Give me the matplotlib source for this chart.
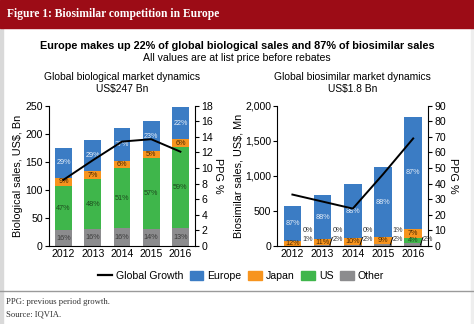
import matplotlib
matplotlib.use('Agg')
import matplotlib.pyplot as plt
from matplotlib.patches import Rectangle, Patch
from matplotlib.lines import Line2D
from matplotlib.ticker import FuncFormatter
import numpy as np

plt.rcParams['font.family'] = ['Liberation Sans', 'DejaVu Sans']

years = ["2012", "2013", "2014", "2015", "2016"]

# Global biological market, US$ Bn (segment sizes)
bio_other = [28, 30, 32, 30, 32]
bio_us = [79, 89, 107, 127, 144]
bio_japan = [15, 14, 13, 13, 14]
bio_europe = [52, 56, 59, 52, 57]
bio_pct_other = ["16%", "16%", "16%", "14%", "13%"]
bio_pct_us = ["47%", "48%", "51%", "57%", "59%"]
bio_pct_japan = ["9%", "7%", "6%", "5%", "6%"]
bio_pct_europe = ["29%", "29%", "27%", "23%", "22%"]
bio_growth = [8.5, 11.0, 13.4, 13.7, 12.1]

# Global biosimilar market, US$ Mn
sim_other = [6, 15, 18, 22, 37]
sim_us = [0, 0, 0, 11, 74]
sim_japan = [69, 80, 89, 101, 129]
sim_europe = [500, 632, 781, 986, 1603]
sim_pct_other = ["1%", "2%", "2%", "2%", "2%"]
sim_pct_us = ["0%", "0%", "0%", "1%", "4%"]
sim_pct_japan = ["12%", "11%", "10%", "9%", "7%"]
sim_pct_europe = ["87%", "88%", "88%", "88%", "87%"]
sim_growth = [33, 28.5, 24, 46, 69]

c_europe = '#3b7cc4'
c_japan = '#f7941e'
c_us = '#3fb64b'
c_other = '#8c8c8e'

W, H = 474, 324
fig = plt.figure(figsize=(W / 100, H / 100), dpi=100)

def fx(px): return px / W
def fy(py): return 1 - py / H

# frame and header
fig.patches.append(Rectangle((0, 0), fx(2.5), 1, transform=fig.transFigure, color='#d9d9d9', zorder=0))
fig.patches.append(Rectangle((fx(470.5), 0), fx(3.5), 1, transform=fig.transFigure, color='#eeeeee', zorder=0))
fig.patches.append(Rectangle((0, fy(28)), 1, fy(0) - fy(28), transform=fig.transFigure, color='#9c0c16', zorder=1))
fig.text(fx(7), fy(14), "Figure 1: Biosimilar competition in Europe", color='white',
         family=['Liberation Serif', 'DejaVu Serif'], fontweight='bold', fontsize=8.3, va='center')
fig.add_artist(Line2D([0, 1], [fy(290.5), fy(290.5)], transform=fig.transFigure, color='#9a9a9a', lw=1))
fig.text(fx(6), fy(302.5), "PPG: previous period growth.", family=['Liberation Serif', 'DejaVu Serif'],
         fontsize=6.2, va='center', color='#333333')
fig.text(fx(6), fy(314), "Source: IQVIA.", family=['Liberation Serif', 'DejaVu Serif'],
         fontsize=6.2, va='center', color='#333333')

fig.text(0.5, fy(46), "Europe makes up 22% of global biological sales and 87% of biosimilar sales",
         ha='center', va='center', fontweight='bold', fontsize=7.8)
fig.text(0.5, fy(58), "All values are at list price before rebates", ha='center', va='center', fontsize=7.6)

x = np.arange(len(years))
bw = 0.58


def stacked(ax, segs, colors):
    bottom = np.zeros(len(years))
    for vals, c in zip(segs, colors):
        ax.bar(x, vals, bw, bottom=bottom, color=c, zorder=2)
        bottom = bottom + np.array(vals)


def style(ax, ax2):
    for a in (ax, ax2):
        a.spines['top'].set_visible(False)
        a.tick_params(labelsize=7.6, length=3, width=0.8, pad=1.5)
        a.set_facecolor('none')
    ax.spines['right'].set_visible(False)
    ax2.spines['left'].set_visible(False)
    ax2.spines['bottom'].set_visible(False)
    ax.tick_params(axis='x', length=0, pad=2)
    ax.set_xticks(x, years)
    ax.set_xlim(-0.5, 4.5)


# ---- left: biological market
ax1 = fig.add_axes([fx(49), fy(246), fx(146), fy(105.7) - fy(246)])
segs = [bio_other, bio_us, bio_japan, bio_europe]
stacked(ax1, segs, [c_other, c_us, c_japan, c_europe])
pcts = [bio_pct_other, bio_pct_us, bio_pct_japan, bio_pct_europe]
tcols = ['#3a3a3a', '#1d4a1d', '#4a2800', '#e6eef8']
bottom = np.zeros(len(years))
for vals, labs, tc in zip(segs, pcts, tcols):
    for i in range(len(years)):
        ax1.text(x[i], bottom[i] + vals[i] / 2, labs[i], ha='center', va='center', fontsize=5.2, color=tc, zorder=4)
    bottom = bottom + np.array(vals)
ax1.set_ylim(0, 250)
ax1.set_yticks(np.arange(0, 251, 50))
ax1.set_ylabel("Biological sales, US$, Bn", fontsize=7.8, va='center')
ax1.yaxis.set_label_coords(-0.215, 0.5)
ax1.set_title("Global biological market dynamics\nUS$247 Bn", fontsize=7.4, pad=10, linespacing=1.25)
ax1b = ax1.twinx()
ax1b.plot(x, bio_growth, color='black', lw=1.4, zorder=5)
ax1b.set_ylim(0, 18)
ax1b.set_yticks(np.arange(0, 19, 2))
ax1b.set_ylabel("PPG %", fontsize=7.8, rotation=270, va='center')
ax1b.yaxis.set_label_coords(1.16, 0.5)
style(ax1, ax1b)

# ---- right: biosimilar market
ax2 = fig.add_axes([fx(277.3), fy(246), fx(151), fy(105.7) - fy(246)])
segs = [sim_other, sim_us, sim_japan, sim_europe]
stacked(ax2, segs, [c_other, c_us, c_japan, c_europe])
ax2.set_ylim(0, 2000)
ax2.set_yticks(np.arange(0, 2001, 500))
ax2.yaxis.set_major_formatter(FuncFormatter(lambda v, p: f"{int(v):,}"))
ax2.set_ylabel("Biosimilar sales, US$, Mn", fontsize=7.8, va='center')
ax2.yaxis.set_label_coords(-0.26, 0.5)
ax2.set_title("Global biosimilar market dynamics\nUS$1.8 Bn", fontsize=7.4, pad=10, linespacing=1.25)
for i in range(len(years)):
    base_j = sim_other[i] + sim_us[i]
    ax2.text(x[i], base_j + sim_japan[i] / 2, sim_pct_japan[i], ha='center', va='center',
             fontsize=5.2, color='#4a2800', zorder=4)
    ax2.text(x[i], base_j + sim_japan[i] + sim_europe[i] / 2, sim_pct_europe[i], ha='center', va='center',
             fontsize=5.2, color='#e6eef8', zorder=4)
    ax2.text(x[i] + 0.5, 95, sim_pct_other[i], ha='center', va='center', fontsize=5.2, color='#333333', zorder=4)
    if sim_us[i] > 50:
        ax2.text(x[i], sim_other[i] + sim_us[i] / 2, sim_pct_us[i], ha='center', va='center',
                 fontsize=5.2, color='#1d4a1d', zorder=4)
    else:
        ax2.text(x[i] + 0.5, 220, sim_pct_us[i], ha='center', va='center', fontsize=5.2, color='#333333', zorder=4)
    if i > 0:
        ax2.plot([x[i] + 0.24, x[i] + 0.32], [15, 120], color='black', lw=0.7, zorder=4)
ax2b = ax2.twinx()
ax2b.plot(x, sim_growth, color='black', lw=1.4, zorder=5)
ax2b.set_ylim(0, 90)
ax2b.set_yticks(np.arange(0, 91, 10))
ax2b.set_ylabel("PPG %", fontsize=7.8, rotation=270, va='center')
ax2b.yaxis.set_label_coords(1.165, 0.5)
style(ax2, ax2b)

handles = [Line2D([], [], color='black', lw=1.6),
           Patch(color=c_europe), Patch(color=c_japan), Patch(color=c_us), Patch(color=c_other)]
fig.legend(handles, ["Global Growth", "Europe", "Japan", "US", "Other"], loc='center',
           bbox_to_anchor=(fx(241), fy(276)), ncol=5, frameon=False, fontsize=7.6,
           handlelength=1.3, handleheight=1.0, handletextpad=0.4, columnspacing=0.6)

fig.savefig("out.png", dpi=100)
